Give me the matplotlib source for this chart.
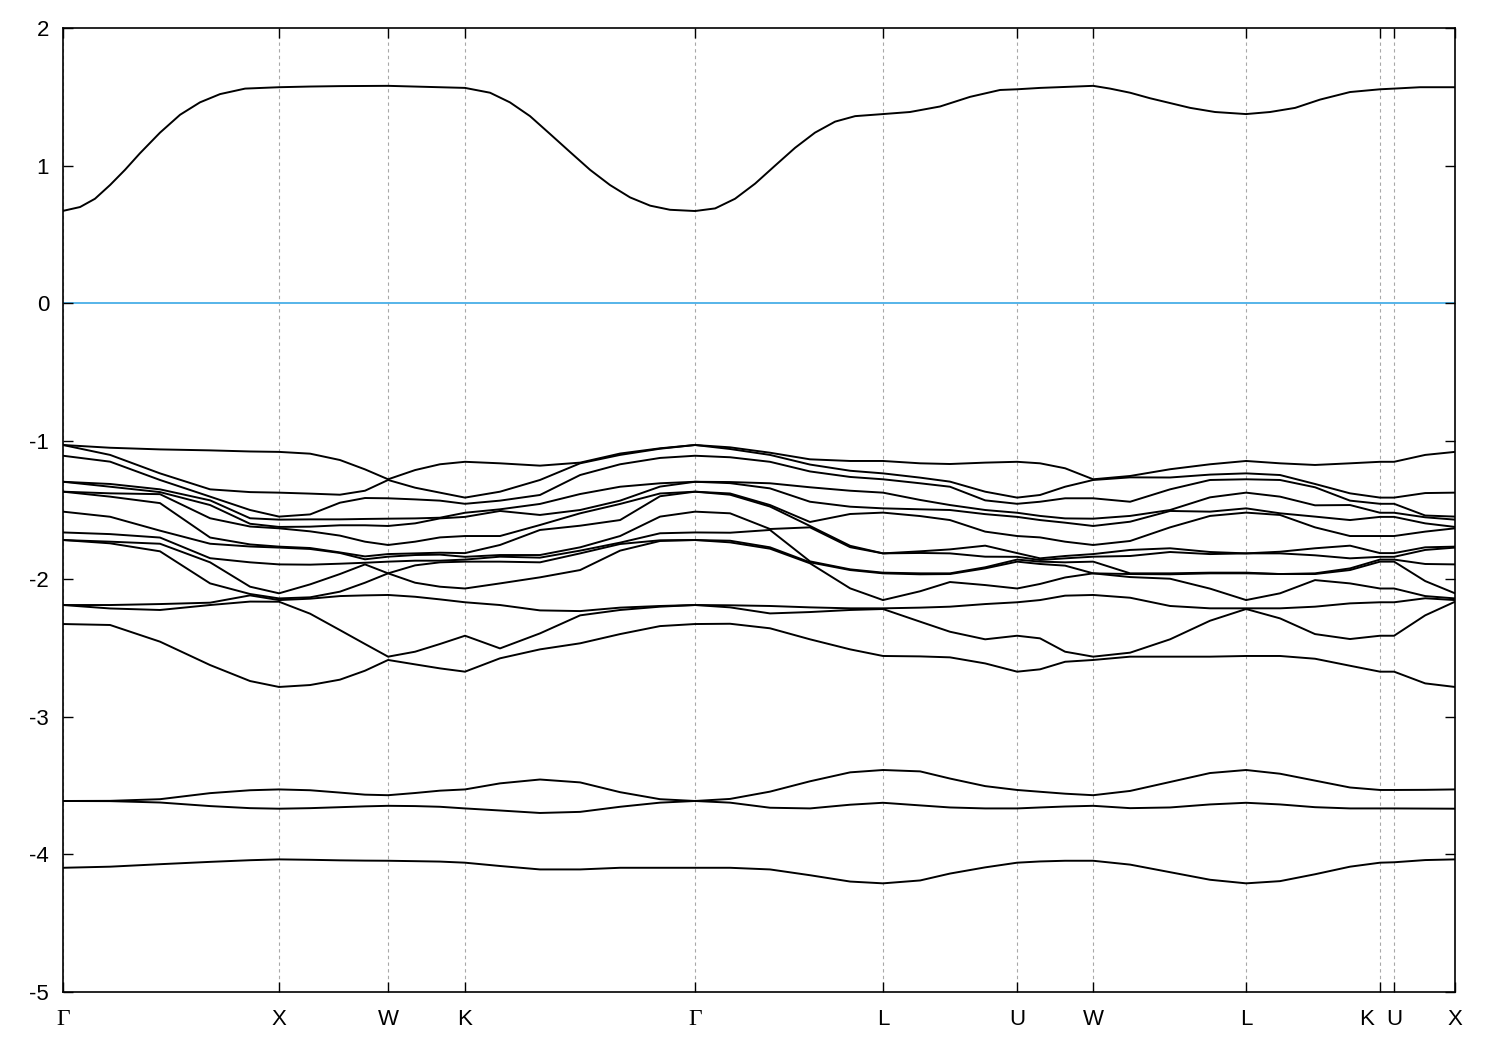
import matplotlib
matplotlib.use("Agg")
import matplotlib.pyplot as plt
import numpy as np

# ---- k-path (path distance, 2pi/a units) ----
k_path = [0.000, 0.218, 0.449, 0.681, 0.866, 1.000,
          1.144, 1.282, 1.398, 1.505,
          1.630, 1.745, 1.861,
          2.023, 2.208, 2.394, 2.579, 2.764, 2.926,
          3.088, 3.273, 3.458, 3.644, 3.796,
          3.968, 4.106, 4.269, 4.417,
          4.523, 4.639, 4.769,
          4.940, 5.125, 5.310, 5.477,
          5.634, 5.796, 5.958, 6.097,
          6.162, 6.306, 6.444]

tick_pos = [0.0, 1.0, 1.505, 1.861, 2.926, 3.796, 4.417, 4.769, 5.477, 6.097, 6.162, 6.444]
tick_labels = ["Γ", "X", "W", "K", "Γ", "L", "U", "W", "L", "K", "U", "X"]

# ---- conduction band (read on its own, denser k grid) ----
conduction_k = [0.000, 0.079, 0.148, 0.218, 0.287, 0.356, 0.449, 0.542, 0.634, 0.727, 0.843, 1.000,
                1.144, 1.282, 1.505, 1.861,
                1.977, 2.069, 2.162, 2.255, 2.347, 2.440, 2.532, 2.625, 2.718, 2.810, 2.926,
                3.019, 3.111, 3.204, 3.296, 3.389, 3.481, 3.574, 3.667, 3.796,
                3.921, 4.060, 4.199, 4.338, 4.417, 4.523, 4.639, 4.769,
                4.847, 4.940, 5.032, 5.125, 5.218, 5.333, 5.477,
                5.588, 5.704, 5.819, 5.958, 6.097, 6.162, 6.282, 6.444]
conduction = [0.672, 0.700, 0.760, 0.860, 0.970, 1.090, 1.240, 1.370, 1.460, 1.520, 1.560, 1.570,
              1.575, 1.578, 1.580, 1.565,
              1.530, 1.460, 1.360, 1.230, 1.100, 0.970, 0.860, 0.770, 0.710, 0.680, 0.671,
              0.690, 0.760, 0.870, 1.000, 1.130, 1.240, 1.320, 1.360, 1.375,
              1.390, 1.430, 1.500, 1.550, 1.555, 1.565, 1.572, 1.580,
              1.560, 1.530, 1.490, 1.455, 1.420, 1.390, 1.375,
              1.390, 1.420, 1.480, 1.535, 1.555, 1.560, 1.570, 1.570]

# ---- valence block (14 bands, energies sorted at each k) ----
valence_GX = [
    [-1.028, -1.028, -1.106, -1.295, -1.295, -1.367, -1.367, -1.512, -1.663, -1.718, -1.718, -2.190, -2.190, -2.328],
    [-1.048, -1.100, -1.149, -1.311, -1.331, -1.379, -1.403, -1.549, -1.675, -1.730, -1.742, -2.190, -2.215, -2.335],
    [-1.060, -1.234, -1.282, -1.350, -1.370, -1.385, -1.450, -1.650, -1.700, -1.745, -1.800, -2.183, -2.226, -2.456],
    [-1.067, -1.350, -1.403, -1.430, -1.464, -1.560, -1.700, -1.745, -1.850, -1.880, -2.033, -2.173, -2.190, -2.626],
    [-1.075, -1.370, -1.500, -1.560, -1.600, -1.620, -1.750, -1.765, -1.880, -2.057, -2.110, -2.120, -2.165, -2.742],
    [-1.078, -1.374, -1.548, -1.570, -1.623, -1.633, -1.766, -1.773, -1.895, -2.105, -2.142, -2.154, -2.166, -2.785],
]
valence_XW = [
    [-1.091, -1.381, -1.532, -1.568, -1.621, -1.655, -1.776, -1.783, -1.897, -2.040, -2.134, -2.144, -2.253, -2.771],
    [-1.137, -1.389, -1.447, -1.568, -1.611, -1.686, -1.808, -1.812, -1.890, -1.965, -2.093, -2.125, -2.372, -2.732],
    [-1.205, -1.360, -1.413, -1.565, -1.611, -1.730, -1.837, -1.858, -1.883, -1.895, -2.028, -2.120, -2.473, -2.667],
    [-1.277, -1.282, -1.415, -1.563, -1.616, -1.754, -1.820, -1.839, -1.875, -1.960, -1.960, -2.117, -2.565, -2.589],
]
valence_WK = [
    [-1.210, -1.338, -1.423, -1.561, -1.597, -1.730, -1.815, -1.827, -1.868, -1.902, -2.028, -2.130, -2.529, -2.621],
    [-1.168, -1.374, -1.432, -1.556, -1.561, -1.699, -1.810, -1.824, -1.868, -1.880, -2.057, -2.149, -2.473, -2.650],
    [-1.150, -1.410, -1.455, -1.520, -1.550, -1.689, -1.813, -1.840, -1.860, -1.875, -2.070, -2.170, -2.413, -2.674],
]
valence_KG = [
    [-1.161, -1.367, -1.432, -1.495, -1.507, -1.689, -1.754, -1.827, -1.839, -1.875, -2.033, -2.190, -2.505, -2.577],
    [-1.178, -1.282, -1.391, -1.456, -1.536, -1.609, -1.645, -1.827, -1.846, -1.880, -1.989, -2.229, -2.396, -2.512],
    [-1.156, -1.161, -1.246, -1.384, -1.500, -1.524, -1.614, -1.771, -1.795, -1.815, -1.936, -2.234, -2.265, -2.468],
    [-1.090, -1.100, -1.168, -1.331, -1.432, -1.456, -1.573, -1.689, -1.737, -1.747, -1.795, -2.209, -2.226, -2.401],
    [-1.052, -1.055, -1.122, -1.306, -1.330, -1.380, -1.400, -1.548, -1.669, -1.720, -1.725, -2.197, -2.202, -2.343],
    [-1.028, -1.028, -1.106, -1.295, -1.295, -1.367, -1.367, -1.512, -1.663, -1.718, -1.718, -2.190, -2.190, -2.328],
]
valence_GL = [
    [-1.045, -1.057, -1.117, -1.297, -1.305, -1.380, -1.389, -1.524, -1.665, -1.723, -1.735, -2.192, -2.207, -2.326],
    [-1.084, -1.100, -1.150, -1.306, -1.343, -1.464, -1.475, -1.638, -1.645, -1.771, -1.781, -2.197, -2.251, -2.359],
    [-1.132, -1.170, -1.220, -1.335, -1.440, -1.587, -1.616, -1.626, -1.873, -1.880, -1.887, -2.207, -2.241, -2.439],
    [-1.144, -1.215, -1.260, -1.360, -1.476, -1.529, -1.760, -1.770, -1.931, -1.936, -2.069, -2.214, -2.226, -2.512],
    [-1.144, -1.234, -1.277, -1.374, -1.488, -1.519, -1.815, -1.815, -1.955, -1.960, -2.154, -2.214, -2.219, -2.560],
]
valence_LU = [
    [-1.161, -1.265, -1.306, -1.427, -1.495, -1.544, -1.800, -1.812, -1.960, -1.967, -2.090, -2.209, -2.311, -2.563],
    [-1.166, -1.294, -1.331, -1.464, -1.500, -1.573, -1.786, -1.815, -1.960, -1.965, -2.023, -2.202, -2.384, -2.570],
    [-1.156, -1.367, -1.430, -1.500, -1.530, -1.657, -1.759, -1.839, -1.916, -1.924, -2.045, -2.183, -2.439, -2.614],
    [-1.150, -1.410, -1.455, -1.520, -1.550, -1.689, -1.813, -1.840, -1.860, -1.875, -2.070, -2.170, -2.413, -2.674],
]
valence_UW = [
    [-1.161, -1.391, -1.440, -1.543, -1.573, -1.699, -1.851, -1.863, -1.875, -1.892, -2.037, -2.154, -2.432, -2.657],
    [-1.197, -1.331, -1.415, -1.561, -1.592, -1.730, -1.834, -1.851, -1.880, -1.904, -1.990, -2.122, -2.529, -2.602],
    [-1.277, -1.282, -1.415, -1.563, -1.616, -1.754, -1.820, -1.839, -1.875, -1.960, -1.960, -2.117, -2.565, -2.589],
]
valence_WL = [
    [-1.253, -1.263, -1.440, -1.543, -1.585, -1.725, -1.790, -1.834, -1.960, -1.965, -1.987, -2.137, -2.536, -2.565],
    [-1.204, -1.264, -1.350, -1.500, -1.507, -1.626, -1.778, -1.805, -1.960, -1.967, -1.999, -2.197, -2.439, -2.565],
    [-1.168, -1.243, -1.282, -1.408, -1.512, -1.543, -1.805, -1.820, -1.955, -1.960, -2.071, -2.214, -2.304, -2.565],
    [-1.144, -1.234, -1.277, -1.374, -1.488, -1.519, -1.815, -1.815, -1.955, -1.960, -2.154, -2.214, -2.219, -2.560],
]
valence_LK = [
    [-1.161, -1.246, -1.282, -1.403, -1.524, -1.536, -1.803, -1.815, -1.965, -1.965, -2.105, -2.214, -2.287, -2.560],
    [-1.173, -1.311, -1.335, -1.466, -1.548, -1.626, -1.778, -1.829, -1.960, -1.965, -2.009, -2.202, -2.401, -2.580],
    [-1.161, -1.379, -1.432, -1.464, -1.573, -1.689, -1.759, -1.851, -1.924, -1.936, -2.033, -2.178, -2.437, -2.631],
    [-1.150, -1.410, -1.455, -1.520, -1.550, -1.689, -1.813, -1.840, -1.860, -1.875, -2.070, -2.170, -2.413, -2.674],
]
valence_UX = [
    [-1.150, -1.410, -1.455, -1.520, -1.550, -1.689, -1.813, -1.840, -1.860, -1.875, -2.070, -2.170, -2.413, -2.674],
    [-1.100, -1.377, -1.540, -1.553, -1.597, -1.657, -1.771, -1.790, -1.892, -2.016, -2.125, -2.141, -2.265, -2.759],
    [-1.078, -1.374, -1.548, -1.570, -1.623, -1.633, -1.766, -1.773, -1.895, -2.105, -2.142, -2.154, -2.166, -2.785],
]

# ---- lower bands ----
mid_upper = [-3.613, -3.612, -3.600, -3.556, -3.535, -3.529,
             -3.535, -3.552, -3.567, -3.571,
             -3.555, -3.538, -3.529,
             -3.485, -3.457, -3.478, -3.549, -3.600, -3.613,
             -3.598, -3.545, -3.470, -3.405, -3.388,
             -3.398, -3.450, -3.505, -3.533,
             -3.546, -3.560, -3.571,
             -3.540, -3.475, -3.410, -3.388,
             -3.415, -3.465, -3.515, -3.533,
             -3.533, -3.532, -3.529]
mid_lower = [-3.613, -3.614, -3.624, -3.650, -3.665, -3.669,
             -3.665, -3.658, -3.652, -3.648,
             -3.650, -3.655, -3.667,
             -3.682, -3.700, -3.692, -3.655, -3.625, -3.613,
             -3.625, -3.662, -3.667, -3.640, -3.626,
             -3.645, -3.660, -3.667, -3.667,
             -3.660, -3.653, -3.648,
             -3.665, -3.660, -3.638, -3.626,
             -3.638, -3.658, -3.667, -3.667,
             -3.667, -3.668, -3.669]
lowest = [-4.098, -4.090, -4.072, -4.055, -4.043, -4.037,
          -4.040, -4.044, -4.046, -4.047,
          -4.050, -4.053, -4.061,
          -4.085, -4.110, -4.110, -4.098, -4.098, -4.098,
          -4.098, -4.110, -4.152, -4.198, -4.211,
          -4.190, -4.140, -4.095, -4.061,
          -4.052, -4.047, -4.047,
          -4.075, -4.130, -4.185, -4.211,
          -4.195, -4.145, -4.090, -4.061,
          -4.058, -4.042, -4.037]

valence = np.array(valence_GX + valence_XW + valence_WK + valence_KG + valence_GL
                   + valence_LU + valence_UW + valence_WL + valence_LK + valence_UX)

# ---- figure ----
W, H = 1500, 1050
fig = plt.figure(figsize=(W / 100, H / 100), dpi=100)
ax = fig.add_axes([63 / W, 1 - 992 / H, (1455 - 63) / W, (992 - 28) / H])

for xv in tick_pos:
    ax.axvline(xv, color="#a8a8a8", lw=0.8, ls=(0, (3, 3)), zorder=0)
ax.axhline(0, color="#56b4e9", lw=1.4, zorder=1)

k = np.array(k_path)
ax.plot(conduction_k, conduction, color="black", lw=1.4, zorder=2)
for band in [mid_upper, mid_lower, lowest]:
    ax.plot(k, band, color="black", lw=1.4, zorder=2)
for j in range(valence.shape[1]):
    ax.plot(k, valence[:, j], color="black", lw=1.4, zorder=2)

ax.set_xlim(tick_pos[0], tick_pos[-1])
ax.set_ylim(-5, 2)
yt = list(range(-5, 3))
ax.set_yticks(yt)
ax.set_yticklabels([str(v) for v in yt], family="Liberation Sans", fontsize=16)

# x tick marks without built-in labels; labels drawn as text below the axis
ax.set_xticks(tick_pos)
ax.set_xticklabels([""] * len(tick_pos))
label_shift_pt = [0, 0, 0, 0, 0, 0, 0, 0, 0, -10, 0, 0]   # "K" of "K U" sits left of its tick
for pos, lab, dx in zip(tick_pos, tick_labels, label_shift_pt):
    is_gamma = lab == "Γ"
    ax.annotate(lab, xy=(pos, 0), xycoords=("data", "axes fraction"),
                xytext=(dx, -12), textcoords="offset points",
                ha="center", va="top", annotation_clip=False,
                family="Liberation Serif" if is_gamma else "Liberation Sans",
                fontsize=17 if is_gamma else 16)

ax.tick_params(axis="both", direction="in", length=7, width=1.0,
               top=True, right=True, colors="black")
ax.tick_params(axis="y", pad=10)
for s in ax.spines.values():
    s.set_linewidth(1.2)
    s.set_color("black")

fig.savefig("out.png", dpi=100)
